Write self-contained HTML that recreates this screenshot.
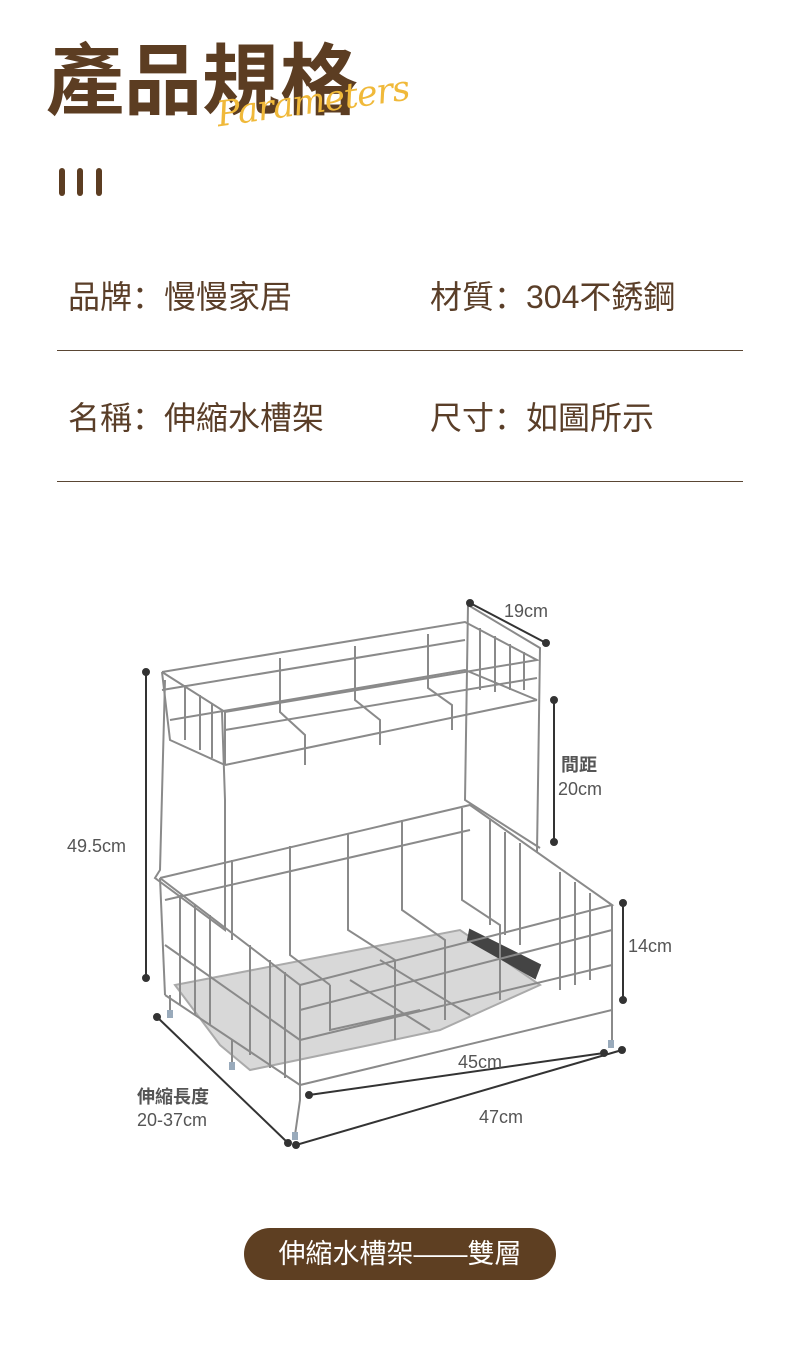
<!DOCTYPE html>
<html><head><meta charset="utf-8"><style>
*{margin:0;padding:0}
body{width:800px;height:1356px;background:#fff;position:relative;overflow:hidden;font-family:"Liberation Sans","Noto Sans CJK TC",sans-serif}
.a{position:absolute;white-space:nowrap}
.t{font-size:78px;font-weight:bold;color:#5c3d22;left:46px;top:20px;line-height:110px;font-family:"Noto Sans CJK TC",sans-serif}
.p{font-family:"DejaVu Serif","Liberation Serif",serif;font-style:italic;color:#f0b93a;font-size:35px;left:216px;top:82px;transform:rotate(-8deg);letter-spacing:-1px}
.bar{position:absolute;top:168px;width:6px;height:28px;border-radius:3px;background:#5c3d22}
.s{font-size:32px;color:#5a3e28;line-height:40px;font-family:"Liberation Sans","Noto Sans CJK SC",sans-serif}
.ln{position:absolute;left:57px;width:686px;height:1px;background:#5a4634}
.d{font-size:18px;color:#555;line-height:22px;font-family:"Liberation Sans","Noto Sans CJK TC",sans-serif}
.btn{position:absolute;left:244px;top:1228px;width:312px;height:52px;border-radius:26px;background:#5e3f22;color:#fff;font-size:27px;line-height:52px;text-align:center;font-family:"Liberation Sans","Noto Sans CJK TC",sans-serif}
</style></head><body>
<div class="a t">產品規格</div>
<div class="a p">Parameters</div>
<div class="bar" style="left:59px"></div><div class="bar" style="left:77px"></div><div class="bar" style="left:96px"></div>
<div class="a s" style="left:68px;top:277px">品牌：慢慢家居</div>
<div class="a s" style="left:430px;top:277px">材質：304不銹鋼</div>
<div class="ln" style="top:350px"></div>
<div class="a s" style="left:68px;top:398px">名稱：伸縮水槽架</div>
<div class="a s" style="left:430px;top:398px">尺寸：如圖所示</div>
<div class="ln" style="top:481px"></div>

<svg class="a" style="left:0;top:0" width="800" height="1356" viewBox="0 0 800 1356">
<g fill="none" stroke="#8a8a8a" stroke-width="2">
<polygon points="175,985 460,930 540,985 440,1030 370,1045 250,1070 220,1045" fill="#d8d8d8" stroke="#aaa"/>
<polygon points="470,930 540,965 535,978 468,940" fill="#444" stroke="#444"/>
<polyline points="162,672 465,622 537,660 225,712 162,672"/>
<polyline points="162,690 465,640"/><polyline points="225,730 537,678"/>
<polyline points="170,720 465,670 537,700"/>
<polyline points="225,765 537,700"/><polyline points="225,712 225,765"/>
<polyline points="162,672 170,740 225,765"/>
<polyline points="280,658 280,712 305,735 305,765"/><polyline points="355,646 355,700 380,720 380,745"/>
<polyline points="428,634 428,688 452,705 452,730"/>
<polyline points="185,685 185,740"/><polyline points="200,695 200,750"/><polyline points="212,703 212,758"/>
<polyline points="480,628 480,690"/><polyline points="495,636 495,692"/><polyline points="510,644 510,690"/><polyline points="524,652 524,690"/>
<polyline points="468,605 465,800 540,848"/><polyline points="468,605 540,648 537,852"/>
<polyline points="165,680 160,870 155,878 225,930 225,800 222,712"/>
<polyline points="160,878 470,805 612,905 300,985 160,878"/>
<polyline points="165,900 470,830"/><polyline points="300,1010 612,930"/>
<polyline points="165,945 300,1040 612,965"/>
<polyline points="165,995 300,1085 612,1010 612,905"/>
<polyline points="160,878 165,995"/><polyline points="300,985 300,1085"/>
<polyline points="232,860 232,940"/><polyline points="290,846 290,955 330,985"/><polyline points="348,833 348,930 395,960 395,1040"/>
<polyline points="402,820 402,910 445,940 445,1020"/><polyline points="462,808 462,900 500,925 500,1000"/>
<polyline points="180,895 180,1005"/><polyline points="195,905 195,1015"/><polyline points="210,915 210,1025"/><polyline points="250,945 250,1055"/><polyline points="270,960 270,1068"/><polyline points="285,972 285,1078"/>
<polyline points="490,820 490,925"/><polyline points="505,832 505,935"/><polyline points="520,843 520,945"/><polyline points="560,872 560,990"/><polyline points="575,882 575,985"/><polyline points="590,893 590,980"/>
<polyline points="330,985 330,1030 420,1010"/><polyline points="350,980 430,1030"/><polyline points="380,960 470,1015"/>
<polyline points="300,1085 300,1100 295,1135"/><polyline points="612,1010 612,1045"/><polyline points="170,995 170,1015"/><polyline points="232,1040 232,1065"/>
</g>
<g fill="#9ab" stroke="none"><rect x="292" y="1132" width="6" height="8"/><rect x="608" y="1040" width="6" height="8"/><rect x="167" y="1010" width="6" height="8"/><rect x="229" y="1062" width="6" height="8"/></g>
<g stroke="#333" stroke-width="2" fill="#333">
<line x1="470" y1="603" x2="546" y2="643"/><circle cx="470" cy="603" r="3"/><circle cx="546" cy="643" r="3"/>
<line x1="146" y1="672" x2="146" y2="978"/><circle cx="146" cy="672" r="3"/><circle cx="146" cy="978" r="3"/>
<line x1="554" y1="700" x2="554" y2="842"/><circle cx="554" cy="700" r="3"/><circle cx="554" cy="842" r="3"/>
<line x1="623" y1="903" x2="623" y2="1000"/><circle cx="623" cy="903" r="3"/><circle cx="623" cy="1000" r="3"/>
<line x1="157" y1="1017" x2="288" y2="1143"/><circle cx="157" cy="1017" r="3"/><circle cx="288" cy="1143" r="3"/>
<line x1="309" y1="1095" x2="604" y2="1053"/><circle cx="309" cy="1095" r="3"/><circle cx="604" cy="1053" r="3"/>
<line x1="296" y1="1145" x2="622" y2="1050"/><circle cx="296" cy="1145" r="3"/><circle cx="622" cy="1050" r="3"/>
</g>
</svg>
<div class="a d" style="left:504px;top:600px">19cm</div>
<div class="a d" style="left:67px;top:835px">49.5cm</div>
<div class="a d" style="left:561px;top:754px;font-weight:bold">間距</div>
<div class="a d" style="left:558px;top:778px">20cm</div>
<div class="a d" style="left:628px;top:935px">14cm</div>
<div class="a d" style="left:137px;top:1086px;font-weight:bold">伸縮長度</div>
<div class="a d" style="left:137px;top:1109px">20-37cm</div>
<div class="a d" style="left:458px;top:1051px">45cm</div>
<div class="a d" style="left:479px;top:1106px">47cm</div>
<div class="btn">伸縮水槽架——雙層</div>
</body></html>
